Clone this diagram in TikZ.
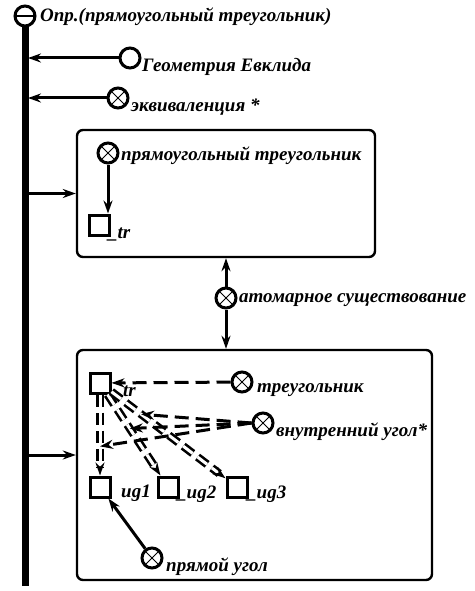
\documentclass[tikz,border=0pt]{standalone}
\usepackage{fontspec}
\setmainfont{Liberation Serif}
\usetikzlibrary{arrows.meta,positioning}

\begin{document}
\begin{tikzpicture}[x=1pt, y=-1pt,
  xnode/.style={circle, draw, line width=3pt, minimum size=20pt, inner sep=0pt, fill=white,
    path picture={\draw[line width=1pt] (path picture bounding box.south west) -- (path picture bounding box.north east)
      (path picture bounding box.north west) -- (path picture bounding box.south east);}},
  dnode/.style={circle, draw, line width=3pt, minimum size=20pt, inner sep=0pt, fill=white,
    path picture={\fill (path picture bounding box.center) circle (1.4pt);}},
  hnode/.style={circle, draw, line width=3pt, minimum size=20pt, inner sep=0pt, fill=white,
    path picture={\draw[line width=2pt] (path picture bounding box.west) -- (path picture bounding box.east);}},
  sq/.style={rectangle, draw, line width=3pt, minimum size=20pt, inner sep=0pt},
  frame/.style={rectangle, draw, line width=2.4pt, rounded corners=6pt, inner sep=0pt},
  lbl/.style={font=\fontsize{19}{21}\selectfont\bfseries\itshape, anchor=west, inner sep=0pt},
  arr/.style={-{Stealth[length=13pt,width=9pt]}, line width=3pt},
  darr/.style={-{Stealth[length=13pt,width=9pt]}, line width=3pt, dash pattern=on 14pt off 7pt},
  parr/.style={-{Stealth[length=13pt,width=9pt]}, double, double distance=3pt, line width=2.6pt,
    dash pattern=on 12pt off 6pt}
]
\useasboundingbox (0,0) rectangle (474,591);

% definition and its bar
\node[hnode] (top) at (25,16) {};
\node[lbl] (toplbl) at (40,17) {Опр.(прямоугольный треугольник)};
\coordinate (barend) at (25,586);
\coordinate (barR) at (28,0);
\draw[line width=7pt] (top.south) -- (barend);

\node[dnode] (geo) at (130,58) {};
\node[lbl] (geolbl) at (142,67) {Геометрия Евклида};
\node[xnode] (ekv) at (118,98) {};
\node[lbl] (ekvlbl) at (131,107) {эквиваленция *};
\draw[arr] (geo.west) -- (geo.west -| barR);
\draw[arr] (ekv.west) -- (ekv.west -| barR);

% first frame
\node[frame, minimum width=298pt, minimum height=127pt] (box1) at (226,193.5) {};
\node[xnode] (rt) at (108,153) {};
\node[lbl] (rtlbl) at (121,156) {прямоугольный треугольник};
\node[sq] (tr1) at (99,225) {};
\node[lbl] (tr1lbl) at (108,234) {\_tr};
\draw[arr] (rt.south) -- (rt.south |- tr1.north);
\draw[arr] (barR |- box1.west) -- (box1.west);

% atomic existence
\node[xnode] (atom) at (226,298) {};
\node[lbl] (atomlbl) at (239,300) {атомарное существование};

% second frame
\node[frame, minimum width=355pt, minimum height=230pt] (box2) at (254.5,465) {};
\draw[arr] (atom.north) -- (atom.north |- box1.south);
\draw[arr] (atom.south) -- (atom.south |- box2.north);
\draw[arr] ([yshift=10pt]box2.west -| barR) -- ([yshift=10pt]box2.west);

\node[sq] (tr) at (100,383) {};
\node[lbl] (trlbl) at (123,391) {tr};
\node[sq] (ug1) at (100,487) {};
\node[lbl] (ug1lbl) at (121,493) {ug1};
\node[sq] (ug2) at (168,487) {};
\node[lbl] (ug2lbl) at (177,494) {\_ug2};
\node[sq] (ug3) at (237,487) {};
\node[lbl] (ug3lbl) at (247,494) {\_ug3};

\node[xnode] (tri) at (242,382) {};
\node[lbl] (trilbl) at (257,390) {треугольник};
\node[xnode] (vnu) at (263,423) {};
\node[lbl] (vnulbl) at (276,432) {внутренний угол*};
\node[xnode] (pr) at (152,558) {};
\node[lbl] (prlbl) at (166,567) {прямой угол};

\draw[darr] (tri) -- (tr);
\draw[parr] (tr) -- coordinate[pos=0.64] (p1) (ug1);
\draw[parr] (tr) -- coordinate[pos=0.42] (p2) (ug2);
\draw[parr] (tr) -- coordinate[pos=0.26] (p3) (ug3);
\draw[darr] (vnu.west) -- (p3);
\draw[darr] (vnu.west) -- (p2);
\draw[darr] (vnu.west) -- (p1);
\draw[arr] (pr) -- (ug1);

\end{tikzpicture}
\end{document}
